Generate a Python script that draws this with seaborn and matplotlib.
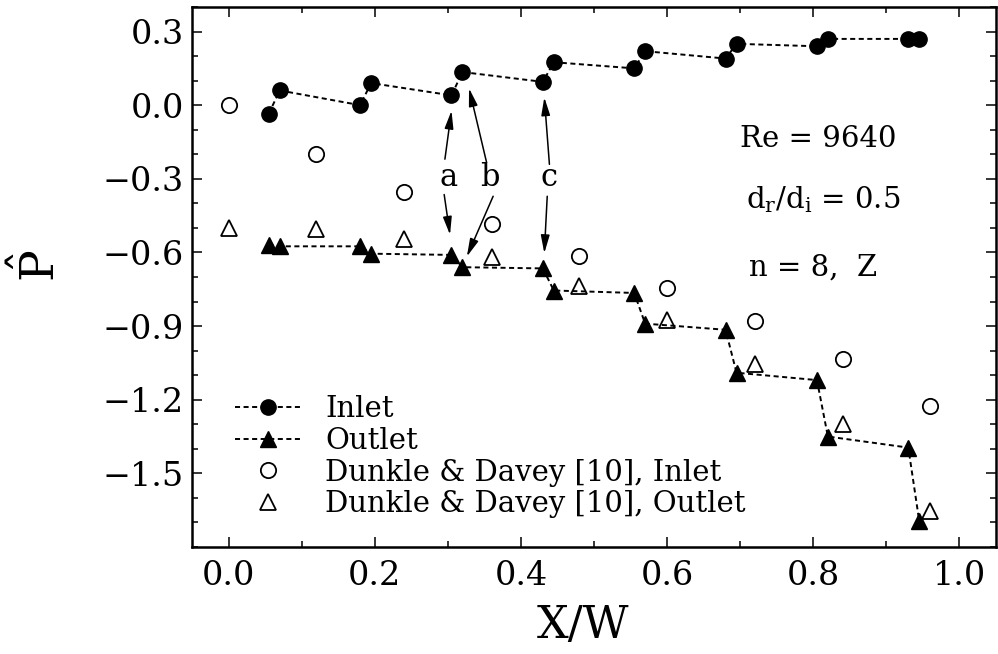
import matplotlib
matplotlib.use("Agg")
import matplotlib.pyplot as plt
from matplotlib.ticker import FixedLocator, MultipleLocator, FuncFormatter
import seaborn as sns

# ---------------------------------------------------
# data
# ---------------------------------------------------
station_x = [0.055, 0.07, 0.18, 0.195, 0.305, 0.32, 0.43, 0.445,
             0.555, 0.57, 0.68, 0.695, 0.805, 0.82, 0.93, 0.945]
inlet_p = [-0.035, 0.06, 0.0, 0.09, 0.04, 0.135, 0.095, 0.175,
           0.15, 0.22, 0.19, 0.25, 0.24, 0.27, 0.27, 0.27]
outlet_p = [-0.57, -0.575, -0.575, -0.605, -0.61, -0.66, -0.665, -0.755,
            -0.765, -0.89, -0.915, -1.09, -1.12, -1.35, -1.395, -1.695]

dd_x = [0.0, 0.12, 0.24, 0.36, 0.48, 0.60, 0.72, 0.84, 0.96]
dd_inlet_p = [0.0, -0.2, -0.355, -0.485, -0.615, -0.745, -0.88, -1.035, -1.225]
dd_outlet_p = [-0.50, -0.505, -0.545, -0.62, -0.735, -0.875, -1.055, -1.30, -1.655]

labels = ["Inlet", "Outlet",
          "Dunkle & Davey [10], Inlet", "Dunkle & Davey [10], Outlet"]

x_ticks = [0.0, 0.2, 0.4, 0.6, 0.8, 1.0]
y_ticks = [0.3, 0.0, -0.3, -0.6, -0.9, -1.2, -1.5]

# ---------------------------------------------------
# style
# ---------------------------------------------------
sns.set_theme(style="ticks")
plt.rcParams["font.family"] = ["DejaVu Serif"]
plt.rcParams["mathtext.fontset"] = "dejavuserif"
plt.rcParams["axes.unicode_minus"] = True
for key in ["text.color", "axes.labelcolor", "xtick.color", "ytick.color",
            "axes.edgecolor"]:
    plt.rcParams[key] = "black"

fig = plt.figure(figsize=(9.98, 6.54), dpi=100)
ax = fig.add_axes([0.1924, 0.1636, 0.8056, 0.8257])

dash = (0, (2.6, 1.8))
common = dict(ax=ax, color="black", estimator=None, sort=False,
              markeredgecolor="black", markersize=11)

sns.lineplot(x=station_x, y=inlet_p, marker="o", linestyle=dash, lw=1.4,
             markeredgewidth=1.0, label=labels[0], **common)
sns.lineplot(x=station_x, y=outlet_p, marker="^", linestyle=dash, lw=1.4,
             markeredgewidth=1.0, label=labels[1], **common)
sns.lineplot(x=dd_x, y=dd_inlet_p, marker="o", linestyle="none",
             markerfacecolor="none", markeredgewidth=1.3, label=labels[2], **common)
sns.lineplot(x=dd_x, y=dd_outlet_p, marker="^", linestyle="none",
             markerfacecolor="none", markeredgewidth=1.3, label=labels[3], **common)

# axes
ax.set_xlim(-0.05, 1.05)
ax.set_ylim(-1.8, 0.4)
ax.xaxis.set_major_locator(FixedLocator(x_ticks))
ax.xaxis.set_minor_locator(MultipleLocator(0.1))
ax.yaxis.set_major_locator(FixedLocator(y_ticks))
ax.yaxis.set_minor_locator(MultipleLocator(0.1))
ax.xaxis.set_major_formatter(FuncFormatter(lambda v, p: f"{v:.1f}"))
ax.yaxis.set_major_formatter(FuncFormatter(lambda v, p: f"{v:.1f}".replace("-", "\u2212")))
ax.tick_params(which="both", direction="in", top=True, right=True,
               width=1.1, color="black", labelcolor="black")
ax.tick_params(which="major", length=7.5, labelsize=24)
ax.tick_params(axis="x", which="major", pad=9)
ax.tick_params(axis="y", which="major", pad=6)
ax.tick_params(which="minor", length=4.5)
for s in ax.spines.values():
    s.set_linewidth(1.8)
    s.set_color("black")

ax.set_xlabel("X/W", fontsize=32)
ax.xaxis.set_label_coords(0.486, -0.105)
ax.set_ylabel(r"$\hat{\mathrm{P}}$", fontsize=34, rotation=90)
ax.yaxis.set_label_coords(-0.158, 0.52)

# legend
leg = ax.legend(loc="lower left", bbox_to_anchor=(0.053, 0.053), frameon=False,
                fontsize=21, handlelength=2.3, handletextpad=0.8,
                labelspacing=0.13, borderpad=0, borderaxespad=0, numpoints=1)
for t in leg.get_texts():
    t.set_color("black")

# parameter text
ax.text(0.70, -0.139, "Re = 9640", fontsize=21, va="center")
ax.text(0.708, -0.384, r"$\mathrm{d_r/d_i}$ = 0.5", fontsize=21, va="center")
ax.text(0.712, -0.663, "n = 8,  Z", fontsize=21, va="center")

# a / b / c markers with arrows
arrow = dict(arrowstyle="-|>,head_length=0.9,head_width=0.22", color="black",
             lw=1.1, shrinkA=0, shrinkB=0)
for name, tx, (up_s, up_t), (dn_s, dn_t) in [
        ("a", 0.301, ((0.296, -0.22), (0.305, -0.0225)), ((0.295, -0.364), (0.303, -0.528))),
        ("b", 0.358, ((0.353, -0.233), (0.329, 0.069)), ((0.362, -0.371), (0.326, -0.617))),
        ("c", 0.438, ((0.439, -0.241), (0.432, 0.032)), ((0.436, -0.371), (0.432, -0.603)))]:
    ax.text(tx, -0.294, name, fontsize=22, ha="center", va="center")
    ax.annotate("", xy=up_t, xytext=up_s, arrowprops=arrow)
    ax.annotate("", xy=dn_t, xytext=dn_s, arrowprops=arrow)

fig.savefig("out.png", dpi=100)
